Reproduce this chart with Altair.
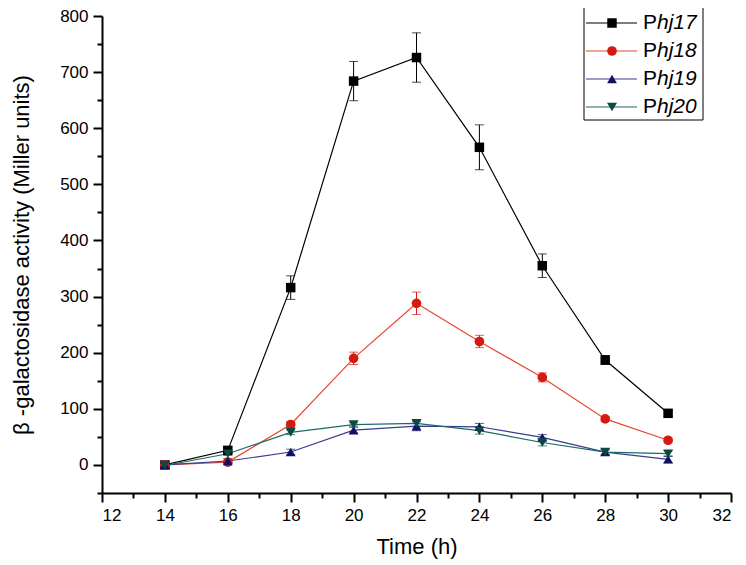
import altair as alt
import pandas as pd

hours = [14, 16, 18, 20, 22, 24, 26, 28, 30]
series = ["Phj17", "Phj18", "Phj19", "Phj20"]
v17 = [0, 26, 316, 684, 726, 566, 355, 187, 92]
e17 = [3, 5, 21, 35, 44, 40, 21, 8, 5]
v18 = [0, 5, 72, 190, 288, 220, 156, 82, 44]
e18 = [2, 2, 5, 11, 20, 11, 8, 4, 4]
v19 = [0, 7, 23, 62, 69, 68, 49, 23, 10]
e19 = [4, 4, 5, 5, 8, 6, 5, 4, 6]
v20 = [-1, 20, 58, 72, 74, 61, 40, 23, 20]
e20 = [5, 3, 4, 3, 6, 6, 6, 5, 5]

line_colors = ["#000000", "#e8472f", "#3b3b8f", "#1d6b62"]
point_colors = ["#000000", "#d51a12", "#101065", "#0b4a44"]
shapes = ["square", "circle", "triangle-up", "triangle-down"]
sizes = [90, 100, 95, 95]

x_major = [12, 14, 16, 18, 20, 22, 24, 26, 28, 30, 32]
x_minor = [13, 15, 17, 19, 21, 23, 25, 27, 29, 31]
y_major = [0, 100, 200, 300, 400, 500, 600, 700, 800]
y_minor = [-50, 50, 150, 250, 350, 450, 550, 650, 750]

FONT = "Liberation Sans"

rows = []
for name, vals, errs in [("Phj17", v17, e17), ("Phj18", v18, e18),
                         ("Phj19", v19, e19), ("Phj20", v20, e20)]:
    for h, v, e in zip(hours, vals, errs):
        rows.append({"series": name, "time": h, "value": v,
                     "lo": v - e, "hi": v + e})
df = pd.DataFrame(rows)

xdom = alt.Scale(domain=[12, 32], nice=False, zero=False)
ydom = alt.Scale(domain=[-50, 800], nice=False, zero=False)

x_axis = alt.Axis(values=x_major, orient="bottom", tickSize=9, tickWidth=2, domainWidth=2,
                  domainColor="black", tickColor="black", labelColor="black",
                  labelFont=FONT, labelFontSize=17, labelPadding=5,
                  title="Time (h)", titleFont=FONT, titleFontSize=22,
                  titleFontWeight="normal", titleColor="black",
                  titlePadding=13, grid=False)
y_axis = alt.Axis(values=y_major, orient="left", tickSize=9, tickWidth=2, domainWidth=2,
                  domainColor="black", tickColor="black", labelColor="black",
                  labelFont=FONT, labelFontSize=17, labelPadding=5,
                  title="β -galactosidase activity (Miller units)",
                  titleFont=FONT, titleFontSize=22, titleFontWeight="normal",
                  titleColor="black", titlePadding=26, grid=False)

X = alt.X("time:Q", scale=xdom, axis=x_axis)
Y = alt.Y("value:Q", scale=ydom, axis=y_axis)

pcolor = alt.Color("series:N", scale=alt.Scale(domain=series, range=point_colors), legend=None)
lcolor = alt.Color("series:N", scale=alt.Scale(domain=series, range=line_colors), legend=None)

base = alt.Chart(df)
err_rule = base.mark_rule(strokeWidth=1).encode(
    x=X, y=alt.Y("lo:Q", scale=ydom, axis=y_axis), y2="hi:Q", color=pcolor)
cap_lo = base.mark_tick(orient="horizontal", size=9, thickness=1).encode(
    x=X, y=alt.Y("lo:Q", scale=ydom, axis=y_axis), color=pcolor)
cap_hi = base.mark_tick(orient="horizontal", size=9, thickness=1).encode(
    x=X, y=alt.Y("hi:Q", scale=ydom, axis=y_axis), color=pcolor)
lines = base.mark_line(strokeWidth=1.2).encode(
    x=X, y=Y, color=lcolor, detail="series:N")
points = base.mark_point(filled=True, opacity=1).encode(
    x=X, y=Y, color=pcolor,
    shape=alt.Shape("series:N", scale=alt.Scale(domain=series, range=shapes), legend=None),
    size=alt.Size("series:N", scale=alt.Scale(domain=series, range=sizes), legend=None))

main = alt.layer(err_rule, cap_lo, cap_hi, lines, points).resolve_scale(
    color="independent")

minor = base.mark_point(opacity=0).encode(
    x=alt.X("time:Q", scale=xdom,
            axis=alt.Axis(values=x_minor, orient="bottom", labels=False, domain=False,
                          tickSize=5, tickWidth=2, tickColor="black", title=None, grid=False)),
    y=alt.Y("value:Q", scale=ydom,
            axis=alt.Axis(values=y_minor, orient="left", labels=False, domain=False,
                          tickSize=5, tickWidth=2, tickColor="black", title=None, grid=False)))

# legend
leg_df = pd.DataFrame({"series": series,
                       "prefix": [s[:1] for s in series],
                       "suffix": [s[1:] for s in series]})
leg_base = alt.Chart(leg_df)
LY = alt.Y("series:N", scale=alt.Scale(type="point", domain=series, range=[7, 91], padding=0),
           axis=None)
leg_rule = leg_base.mark_rule(strokeWidth=1.2).encode(
    x=alt.value(484), x2=alt.value(535), y=LY, color=lcolor)
leg_pt = leg_base.mark_point(filled=True, opacity=1).encode(
    x=alt.value(510), y=LY, color=pcolor,
    shape=alt.Shape("series:N", scale=alt.Scale(domain=series, range=shapes), legend=None),
    size=alt.Size("series:N", scale=alt.Scale(domain=series, range=sizes), legend=None))
leg_p = leg_base.mark_text(align="left", baseline="middle", font=FONT, fontSize=21,
                           color="black").encode(x=alt.value(541), y=LY, text="prefix:N")
leg_s = leg_base.mark_text(align="left", baseline="middle", font=FONT, fontSize=21,
                           fontStyle="italic", color="black").encode(
    x=alt.value(555), y=LY, text="suffix:N")
box = alt.Chart(pd.DataFrame({"a": [0]})).mark_rect(
    fillOpacity=0, stroke="black", strokeWidth=1).encode(
    x=alt.value(482), x2=alt.value(601), y=alt.value(-9), y2=alt.value(104))
legend = alt.layer(leg_rule, leg_pt, leg_p, leg_s, box).resolve_scale(color="independent")

chart = alt.layer(minor, main, legend).resolve_scale(
    x="independent", y="independent", color="independent",
    shape="independent", size="independent").properties(
    width=629, height=477,
    autosize=alt.AutoSizeParams(type="none"),
    padding={"left": 94, "top": 8, "right": 7, "bottom": 70},
    background="white").configure_view(stroke=None)

chart.save("out.html", embed_options={"renderer": "svg", "actions": False})
